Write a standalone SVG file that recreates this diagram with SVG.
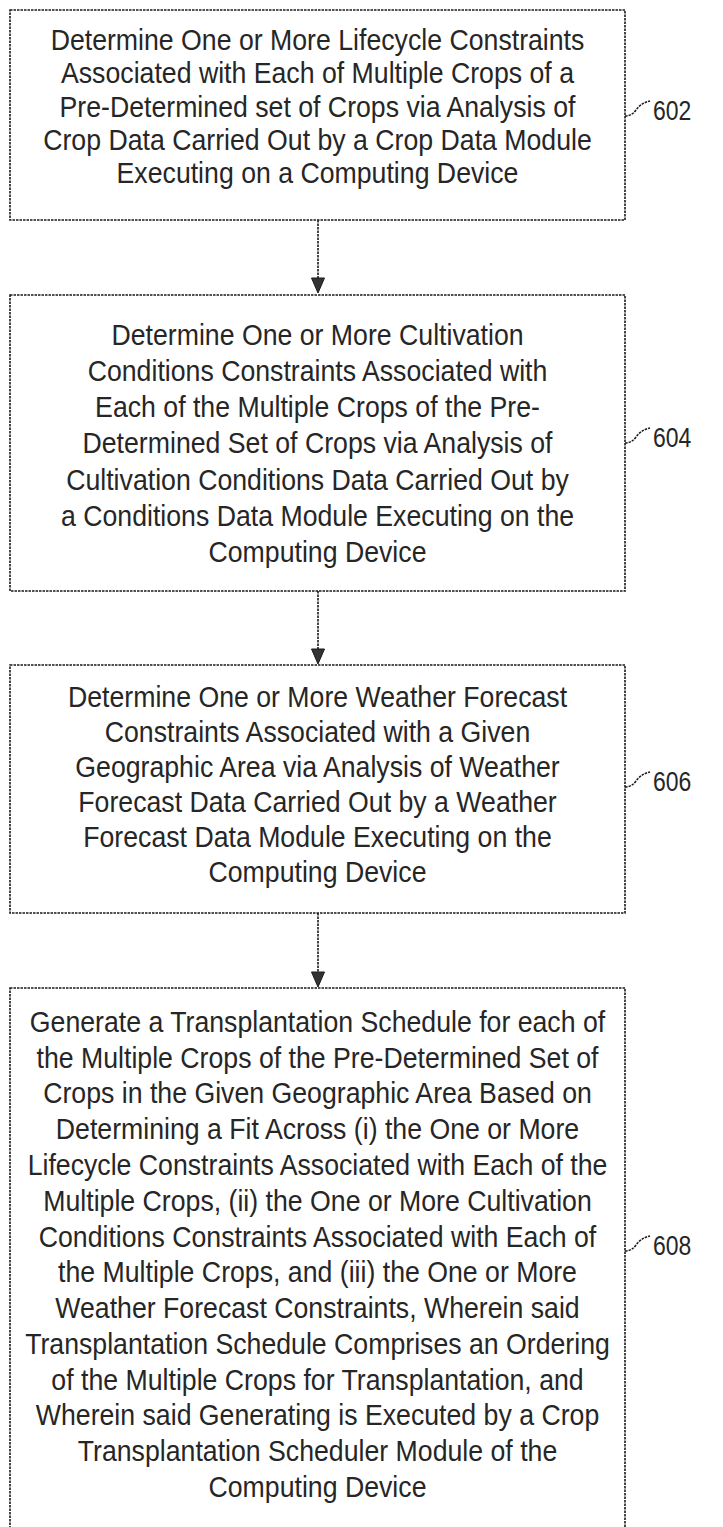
<svg xmlns="http://www.w3.org/2000/svg" width="723" height="1527" viewBox="0 0 723 1527">
<style>
  .box { fill: #ffffff; stroke: #1a1a1a; stroke-width: 1.6; stroke-dasharray: 2.5 1; }
  .t { font-family: "Liberation Sans", Arial, sans-serif; font-size: 29px; fill: #262626; text-anchor: middle; }
  .lbl { font-family: "Liberation Sans", Arial, sans-serif; font-size: 28px; fill: #262626; }
  .lead { fill: none; stroke: #1a1a1a; stroke-width: 1.5; stroke-dasharray: 2.5 1; }
  .conn { stroke: #1a1a1a; stroke-width: 1.6; stroke-dasharray: 2.5 1; fill: none; }
  .head { fill: #333333; stroke: #1a1a1a; stroke-width: 1; }
</style>
<rect width="723" height="1527" fill="#ffffff"/>

<g id="connectors">
  <line class="conn" x1="318" y1="220" x2="318" y2="280"/>
  <polygon class="head" points="318,293 311.5,278 324.5,278"/>
  <line class="conn" x1="318" y1="591" x2="318" y2="651"/>
  <polygon class="head" points="318,664 311.5,649 324.5,649"/>
  <line class="conn" x1="318" y1="913" x2="318" y2="974"/>
  <polygon class="head" points="318,987 311.5,972 324.5,972"/>
</g>

<g id="node-602">
  <rect class="box" x="10" y="10" width="615" height="210"/>
  <g transform="translate(317.5 0) scale(0.92 1)">
    <text class="t" x="0" y="50">Determine One or More Lifecycle Constraints</text>
    <text class="t" x="0" y="83.5">Associated with Each of Multiple Crops of a</text>
    <text class="t" x="0" y="117">Pre-Determined set of Crops via Analysis of</text>
    <text class="t" x="0" y="150">Crop Data Carried Out by a Crop Data Module</text>
    <text class="t" x="0" y="183">Executing on a Computing Device</text>
  </g>
  <path class="lead" d="M625,116 q7,0 11,-6 q5,-7 14,-9"/>
  <text class="lbl" transform="translate(653 120) scale(0.82 1)">602</text>
</g>

<g id="node-604">
  <rect class="box" x="10" y="295" width="615" height="296"/>
  <g transform="translate(317.5 0) scale(0.92 1)">
    <text class="t" x="0" y="345">Determine One or More Cultivation</text>
    <text class="t" x="0" y="381">Conditions Constraints Associated with</text>
    <text class="t" x="0" y="417">Each of the Multiple Crops of the Pre-</text>
    <text class="t" x="0" y="453">Determined Set of Crops via Analysis of</text>
    <text class="t" x="0" y="490">Cultivation Conditions Data Carried Out by</text>
    <text class="t" x="0" y="526">a Conditions Data Module Executing on the</text>
    <text class="t" x="0" y="562">Computing Device</text>
  </g>
  <path class="lead" d="M625,443 q7,0 11,-6 q5,-7 14,-9"/>
  <text class="lbl" transform="translate(653 447) scale(0.82 1)">604</text>
</g>

<g id="node-606">
  <rect class="box" x="10" y="665" width="615" height="248"/>
  <g transform="translate(317.5 0) scale(0.92 1)">
    <text class="t" x="0" y="707">Determine One or More Weather Forecast</text>
    <text class="t" x="0" y="742">Constraints Associated with a Given</text>
    <text class="t" x="0" y="777">Geographic Area via Analysis of Weather</text>
    <text class="t" x="0" y="812">Forecast Data Carried Out by a Weather</text>
    <text class="t" x="0" y="847">Forecast Data Module Executing on the</text>
    <text class="t" x="0" y="882">Computing Device</text>
  </g>
  <path class="lead" d="M625,787 q7,0 11,-6 q5,-7 14,-9"/>
  <text class="lbl" transform="translate(653 791) scale(0.82 1)">606</text>
</g>

<g id="node-608">
  <rect class="box" x="10" y="988" width="615" height="560"/>
  <g transform="translate(317.5 0) scale(0.92 1)">
    <text class="t" x="0" y="1032">Generate a Transplantation Schedule for each of</text>
    <text class="t" x="0" y="1067.8">the Multiple Crops of the Pre-Determined Set of</text>
    <text class="t" x="0" y="1103.5">Crops in the Given Geographic Area Based on</text>
    <text class="t" x="0" y="1139.3">Determining a Fit Across (i) the One or More</text>
    <text class="t" x="0" y="1175.1">Lifecycle Constraints Associated with Each of the</text>
    <text class="t" x="0" y="1210.9">Multiple Crops, (ii) the One or More Cultivation</text>
    <text class="t" x="0" y="1246.6">Conditions Constraints Associated with Each of</text>
    <text class="t" x="0" y="1282.4">the Multiple Crops, and (iii) the One or More</text>
    <text class="t" x="0" y="1318.2">Weather Forecast Constraints, Wherein said</text>
    <text class="t" x="0" y="1353.9">Transplantation Schedule Comprises an Ordering</text>
    <text class="t" x="0" y="1389.7">of the Multiple Crops for Transplantation, and</text>
    <text class="t" x="0" y="1425.5">Wherein said Generating is Executed by a Crop</text>
    <text class="t" x="0" y="1461.2">Transplantation Scheduler Module of the</text>
    <text class="t" x="0" y="1497">Computing Device</text>
  </g>
  <path class="lead" d="M625,1251 q7,0 11,-6 q5,-7 14,-9"/>
  <text class="lbl" transform="translate(653 1255) scale(0.82 1)">608</text>
</g>
</svg>
